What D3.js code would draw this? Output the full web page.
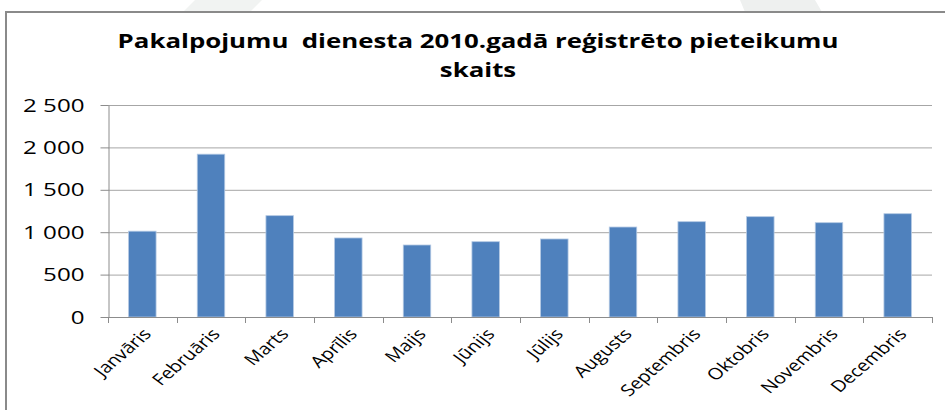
<!DOCTYPE html>
<html>
<head>
<meta charset="utf-8">
<script src="https://cdn.jsdelivr.net/npm/d3@7"></script>
<style>
  body { margin: 0; background: #fff; }
  text { font-family: 'Open Sans', 'Liberation Sans', sans-serif; fill: #000; }
</style>
</head>
<body>
<div id="chart"></div>
<script>
// dati
const months = ['Janvāris','Februāris','Marts','Aprīlis','Maijs','Jūnijs','Jūlijs','Augusts','Septembris','Oktobris','Novembris','Decembris'];
const counts = [1012, 1920, 1195, 932, 849, 888, 920, 1061, 1124, 1183, 1112, 1218];
const yTicks = [0, 500, 1000, 1500, 2000, 2500];
const titleLines = ['Pakalpojumu  dienesta 2010.gadā reģistrēto pieteikumu', 'skaits'];

const W = 945, H = 410;
const sx = 1.25; // teksts attēlā ir izstiepts horizontāli
const m = {left: 108, right: 932, top: 105, bottom: 317};

let svg = d3.select('#chart').append('svg')
  .attr('width', W).attr('height', H);

// fona ēnas virs rāmja
svg.append('polygon').attr('points', '195,0 262,0 250,12 183,12').attr('fill', '#f1f3f2');
svg.append('polygon').attr('points', '740,0 815,0 822,12 745,12').attr('fill', '#eef0ef');

// rāmis
svg.append('rect')
  .attr('x', 6).attr('y', 12).attr('width', W + 10).attr('height', H + 10)
  .attr('fill', '#fff').attr('stroke', '#8a8a8a').attr('stroke-width', 2);

let x = d3.scaleBand().domain(months).range([m.left, m.right]).paddingInner(0.6).paddingOuter(0.3);
let y = d3.scaleLinear().domain([0, 2500]).range([m.bottom, m.top]);

// režģa līnijas
svg.append('g').selectAll('line')
  .data(yTicks.filter(d => d > 0))
  .enter().append('line')
  .attr('x1', m.left).attr('x2', m.right)
  .attr('y1', d => y(d) + 0.5).attr('y2', d => y(d) + 0.5)
  .attr('stroke', '#a6a6a6').attr('stroke-width', 1);

// stabiņi
svg.append('g').selectAll('rect')
  .data(counts)
  .enter().append('rect')
  .attr('x', (d, i) => x(months[i]))
  .attr('y', d => y(d))
  .attr('width', x.bandwidth())
  .attr('height', d => y(0) - y(d))
  .attr('fill', '#4f81bd')
  .attr('stroke', '#b3c8e3').attr('stroke-width', 0.8);

// y ass
let fmt = d => d3.format(',')(d).replace(/,/g, ' ');
let yAxis = svg.append('g').attr('transform', 'translate(' + (m.left + 0.5) + ',0)')
  .call(d3.axisLeft(y).tickValues(yTicks).tickSize(8).tickSizeOuter(0).tickFormat(fmt));
yAxis.select('.domain').attr('stroke', '#8c8c8c');
yAxis.selectAll('.tick line').attr('stroke', '#8c8c8c');
yAxis.selectAll('.tick text')
  .attr('x', null).attr('dy', null)
  .attr('font-size', 17.5)
  .attr('text-anchor', 'end')
  .attr('transform', 'translate(-24,6) scale(1.38,1)');

// x ass
let xb = d3.scaleLinear().domain([0, months.length]).range([m.left, m.right]);
let xAxisG = svg.append('g');
xAxisG.append('line')
  .attr('x1', m.left).attr('x2', m.right + 1)
  .attr('y1', m.bottom + 0.5).attr('y2', m.bottom + 0.5)
  .attr('stroke', '#8c8c8c');
xAxisG.selectAll('line.tk')
  .data(d3.range(months.length + 1))
  .enter().append('line').attr('class', 'tk')
  .attr('x1', d => Math.round(xb(d)) + 0.5).attr('x2', d => Math.round(xb(d)) + 0.5)
  .attr('y1', m.bottom).attr('y2', m.bottom + 6)
  .attr('stroke', '#8c8c8c');
xAxisG.selectAll('text')
  .data(months)
  .enter().append('text')
  .attr('text-anchor', 'end')
  .attr('font-size', 16)
  .attr('transform', d => 'translate(' + (x(d) + x.bandwidth() / 2 + 10) + ',' + (m.bottom + 18) + ') scale(' + sx + ',1) rotate(-47)')
  .text(d => d);

// virsraksts
svg.append('g').selectAll('text')
  .data(titleLines)
  .enter().append('text')
  .attr('text-anchor', 'middle')
  .attr('font-size', 19)
  .attr('font-weight', 'bold')
  .attr('transform', (d, i) => 'translate(478,' + (48 + i * 29) + ') scale(1.36,1)')
  .style('white-space', 'pre')
  .text(d => d);
</script>
</body>
</html>
